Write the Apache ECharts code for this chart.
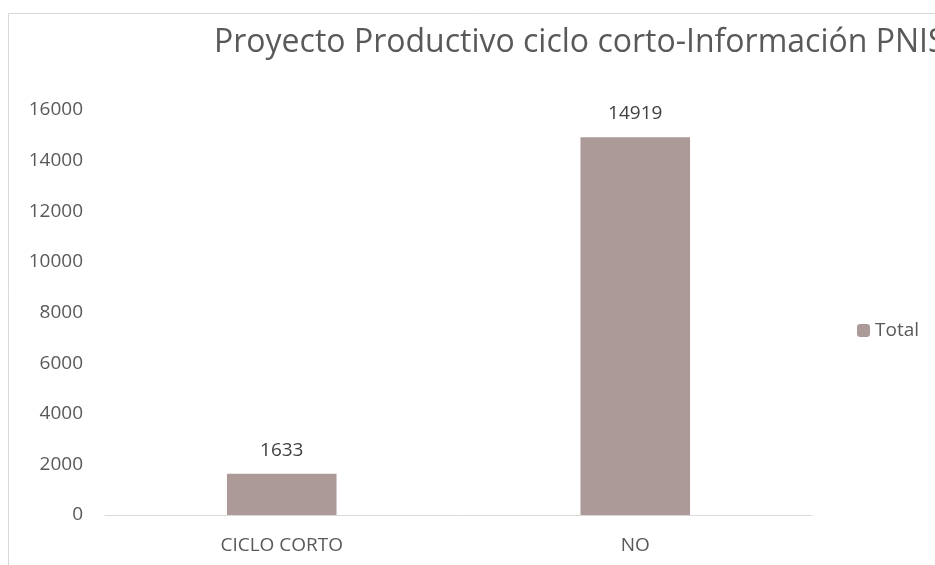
<!DOCTYPE html>
<html>
<head>
<meta charset="utf-8">
<script src="https://cdn.jsdelivr.net/npm/echarts@6/dist/echarts.min.js"></script>
<style>
  html, body { margin: 0; padding: 0; background: #fff; }
  #chart { width: 935px; height: 565px; }
</style>
</head>
<body>
<div id="chart"></div>
<script>
const categories = ['CICLO CORTO', 'NO'];
const totals = [1633, 14919];
const seriesName = 'Total';
const titleText = 'Proyecto Productivo ciclo corto-Información PNIS';

const font = '"Open Sans", sans-serif';
const myChart = echarts.init(document.getElementById('chart'));

const option = {
  backgroundColor: '#fff',
  animation: false,
  title: {
    text: titleText,
    left: 209,
    top: 22,
    textStyle: { fontFamily: font, fontSize: 32, fontWeight: 'normal', color: '#595959' }
  },
  legend: {
    data: [seriesName],
    left: 852,
    top: 316,
    itemWidth: 13,
    itemHeight: 13,
    itemGap: 6,
    textStyle: { fontFamily: font, fontSize: 19, color: '#595959' }
  },
  grid: { left: 105, right: 123, top: 110, bottom: 50, containLabel: false },
  xAxis: {
    type: 'category',
    data: categories,
    axisLine: { lineStyle: { color: '#d9d9d9', width: 1 } },
    axisTick: { show: false },
    axisLabel: { fontFamily: font, fontSize: 19, color: '#595959', margin: 21 }
  },
  yAxis: {
    type: 'value',
    min: 0,
    max: 16000,
    interval: 2000,
    axisLine: { show: false },
    axisTick: { show: false },
    splitLine: { show: false },
    axisLabel: {
      fontFamily: font, fontSize: 19, color: '#595959', margin: 22,
      formatter: v => String(v)
    }
  },
  series: [{
    name: seriesName,
    type: 'bar',
    data: totals,
    barWidth: '31%',
    itemStyle: { color: '#ac9a99' },
    label: {
      show: true,
      position: 'top',
      distance: 14,
      fontFamily: font,
      fontSize: 19,
      color: '#404040'
    }
  }],
  graphic: [{
    type: 'rect',
    shape: { x: 8.5, y: 13.5, width: 1000, height: 600 },
    style: { fill: 'none', stroke: '#d9d9d9', lineWidth: 1 },
    silent: true
  }]
};

myChart.setOption(option);
window.addEventListener('resize', () => myChart.resize());
</script>
</body>
</html>
